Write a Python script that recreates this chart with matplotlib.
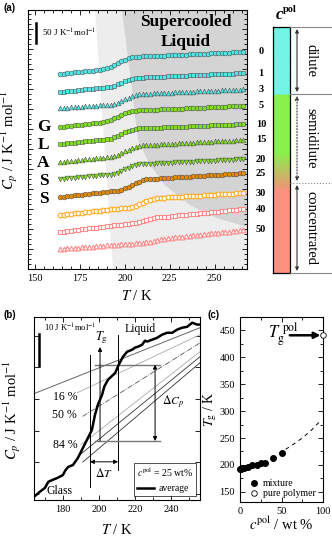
import numpy as np
import matplotlib
matplotlib.use('Agg')
import matplotlib.pyplot as plt
import matplotlib.transforms as mtrans
from matplotlib.patches import Polygon
from matplotlib.colors import LinearSegmentedColormap
from matplotlib.ticker import MultipleLocator

plt.rcParams['font.family'] = ['Liberation Serif', 'DejaVu Serif']
plt.rcParams['mathtext.fontset'] = 'stix'
plt.rcParams['xtick.direction'] = 'in'
plt.rcParams['ytick.direction'] = 'in'
plt.rcParams['axes.linewidth'] = 0.8

# ---------------- panel (a): Cp(T) - Cp(164 K), measured every 2 K
T_a = np.arange(164, 268, 2)
conc = ['0', '1', '3', '5', '10', '15', '20', '25', '30', '40', '50']
cp0 = [0, 1.0, 1.9, 2.9, 3.8, 4.8, 5.7, 6.7, 7.6, 8.6, 9.5, 10.5, 11.4, 13.8, 17.5, 21.9, 26.7, 31.5, 35.9, 39.6, 42.0, 43.0,
       43.4, 43.8, 44.2, 44.6, 45.0, 45.4, 45.8, 46.2, 46.6, 47.0, 47.4, 47.8, 48.2, 48.6, 49.0, 49.4, 49.8, 50.2, 50.6, 51.0,
       51.4, 51.8, 52.2, 52.6, 53.0, 53.4, 53.8, 54.2, 54.6, 55.0]
cp1 = [0, 0.9, 1.8, 2.7, 3.6, 4.5, 5.4, 6.3, 7.2, 8.1, 9.0, 9.9, 10.8, 11.5, 13.4, 16.2, 19.6, 23.3, 27.0, 30.4, 33.2, 35.1,
       35.8, 36.2, 36.6, 37.0, 37.4, 37.8, 38.2, 38.6, 39.0, 39.4, 39.8, 40.2, 40.6, 41.0, 41.4, 41.8, 42.2, 42.6, 43.0, 43.4,
       43.8, 44.2, 44.6, 45.0, 45.4, 45.8, 46.2, 46.6, 47.0, 47.4]
cp3 = [0, 0.6, 1.2, 1.8, 2.4, 3.0, 3.6, 4.2, 4.8, 5.4, 6.0, 6.6, 7.2, 7.8, 8.6, 10.7, 13.7, 17.5, 21.6, 25.6, 29.4, 32.4,
       34.5, 35.3, 35.7, 36.1, 36.5, 36.9, 37.3, 37.7, 38.1, 38.5, 38.9, 39.3, 39.7, 40.1, 40.5, 40.9, 41.3, 41.7, 42.1, 42.5,
       42.9, 43.3, 43.7, 44.1, 44.5, 44.9, 45.3, 45.7, 46.1, 46.5]
cp5 = [0, 1, 2, 3, 4, 5, 6, 7, 8, 9, 10, 11, 11.8, 14.1, 17.5, 21.6, 26.0, 30.4, 34.5, 37.9, 40.2, 41.0,
       41.4, 41.8, 42.2, 42.6, 43.0, 43.4, 43.8, 44.2, 44.6, 45.0, 45.4, 45.8, 46.2, 46.6, 47.0, 47.4, 47.8, 48.2, 48.6, 49.0,
       49.4, 49.8, 50.2, 50.6, 51.0, 51.4, 51.8, 52.2, 52.6, 53.0]
cp10 = [0, 0.9, 1.8, 2.7, 3.6, 4.5, 5.4, 6.3, 7.2, 8.1, 9.0, 9.9, 10.8, 11.6, 13.7, 16.9, 20.7, 24.8, 28.9, 32.8, 35.9, 38.0,
        38.8, 39.2, 39.6, 39.9, 40.3, 40.7, 41.1, 41.5, 41.8, 42.2, 42.6, 43.0, 43.4, 43.7, 44.1, 44.5, 44.9, 45.3, 45.6, 46.0,
        46.4, 46.8, 47.2, 47.5, 47.9, 48.3, 48.7, 49.1, 49.4, 49.8]
cp15 = [0, 0.9, 1.8, 2.7, 3.6, 4.5, 5.4, 6.3, 7.2, 8.1, 9.0, 9.9, 10.8, 11.7, 12.5, 14.8, 18.2, 22.3, 26.7, 31.1, 35.2, 38.6,
        40.9, 41.7, 42.2, 42.7, 43.1, 43.6, 44.1, 44.6, 45.1, 45.5, 46.0, 46.5, 47.0, 47.5, 47.9, 48.4, 48.9, 49.4, 49.9, 50.3,
        50.8, 51.3, 51.8, 52.3, 52.7, 53.2, 53.7, 54.2, 54.7, 55.1]
cp20 = [0, 0.8, 1.6, 2.4, 3.2, 4.0, 4.8, 5.6, 6.4, 7.2, 8.0, 8.8, 9.6, 10.4, 11.2, 13.2, 16.2, 19.9, 23.9, 27.9, 31.6, 34.6,
        36.6, 37.4, 37.8, 38.3, 38.7, 39.2, 39.6, 40.0, 40.5, 40.9, 41.4, 41.8, 42.2, 42.7, 43.1, 43.6, 44.0, 44.4, 44.9, 45.3,
        45.8, 46.2, 46.6, 47.1, 47.5, 48.0, 48.4, 48.8, 49.3, 49.7]
cp25 = [0, 1, 2, 3, 4, 5, 6, 7, 8, 9, 10, 11, 12, 13, 14, 15, 15.8, 18.1, 21.5, 25.6, 30.0, 34.4, 38.5, 41.9, 44.2, 45.0,
        45.6, 46.1, 46.7, 47.2, 47.8, 48.4, 48.9, 49.5, 50.0, 50.6, 51.2, 51.7, 52.3, 52.8, 53.4, 54.0, 54.5, 55.1, 55.6, 56.2,
        56.8, 57.3, 57.9, 58.4, 59.0, 59.6]
cp30 = [0, 1, 2, 3, 4, 5, 6, 7, 8, 9, 10, 11, 12, 13, 14, 15, 16, 17, 18, 18.7, 20.6, 23.4, 26.8, 30.5, 34.2, 37.6, 40.4,
        42.3, 43.0, 43.5, 44.0, 44.6, 45.1, 45.6, 46.1, 46.6, 47.2, 47.7, 48.2, 48.7, 49.2, 49.8, 50.3, 50.8, 51.3, 51.8, 52.4,
        52.9, 53.4, 53.9, 54.4, 55.0]
cp40 = [0, 1.1, 2.2, 3.3, 4.4, 5.5, 6.6, 7.7, 8.8, 9.9, 11.0, 12.1, 13.2, 14.3, 15.4, 16.5, 17.6, 18.7, 19.8, 20.3, 21.6,
        23.5, 25.8, 28.3, 30.8, 33.1, 35.0, 36.3, 36.8, 37.7, 38.6, 39.5, 40.4, 41.3, 42.2, 43.1, 44.0, 44.9, 45.8, 46.7, 47.6,
        48.5, 49.4, 50.3, 51.2, 52.1, 53.0, 53.9, 54.8, 55.7, 56.6, 57.5]
cp50 = [0, 0.7, 1.4, 2.0, 2.7, 3.4, 4.1, 4.8, 5.4, 6.1, 6.8, 7.5, 8.2, 8.8, 9.5, 10.2, 10.9, 11.6, 12.2, 12.9, 13.6, 14.3,
        15.0, 15.4, 16.5, 18.0, 19.9, 22.0, 24.1, 26.0, 27.5, 28.6, 29.0, 30.0, 31.0, 31.9, 32.9, 33.9, 34.9, 35.9, 36.8, 37.8,
        38.8, 39.8, 40.8, 41.7, 42.7, 43.7, 44.7, 45.7, 46.6, 47.6]
curves = [cp0, cp1, cp3, cp5, cp10, cp15, cp20, cp25, cp30, cp40, cp50]
# vertical shift of each curve (J K-1 mol-1)
shift = [487.5, 442.5, 402.5, 355, 312.5, 267.5, 225, 180, 135, 92.5, 50]

# ---------------- panel (b): averaged curve, 25 wt%
T_b = [164, 167, 170, 172, 174, 177, 180, 181.5, 183, 185.6, 188.3, 191.1, 193.9, 196.1, 197.8, 199.4, 201.7, 203, 205, 207,
       209, 211, 213.3, 215.6, 218.3, 220, 221.7, 223.9, 225.5, 226.7, 229.4, 232.2, 235, 237.8, 240.6, 243.3, 246.1, 248.9,
       251.7, 254.4, 256]
cp_b = [-1.0, 0.5, 1.8, 3.8, 4.3, 5.0, 5.9, 7.5, 8.5, 9.1, 11.3, 14.5, 17.7, 20.2, 25.0, 28.2, 31.3, 34.0, 36.1, 37.2,
        38.3, 40.9, 43.4, 45.0, 45.6, 46.3, 46.6, 47.2, 48.5, 48.2, 48.8, 49.4, 50.4, 51.0, 51.0, 52.0, 52.6, 52.9, 54.2,
        53.6, 53.6]

# ---------------- panel (c): Tg vs polymer concentration
c_mix = [0, 1, 3, 5, 10, 15, 20, 25, 30, 40, 50]
Tg_mix = [193, 193, 194, 195, 197, 199, 200, 203, 204, 212, 222]
c_pure = [100]
Tg_pure = [441]
c_fit = [55, 65, 75, 85, 97]
Tg_fit = [229, 239, 250, 263, 282]

W, H = 332, 538
fig = plt.figure(figsize=(W / 100, H / 100), dpi=100)


def rect(l, t, r, b):
    return [l / W, 1 - b / H, (r - l) / W, (b - t) / H]


def ticks(ax):
    ax.tick_params(which='both', top=True, right=True, labelsize=7.5, width=0.6)
    ax.tick_params(which='major', length=3.5)
    ax.tick_params(which='minor', length=2)


# ======== (a)
axA = fig.add_axes(rect(28, 10, 247, 269))
axA.set_xlim(146, 268)
axA.set_ylim(0, 647.5)
axA.add_patch(Polygon([(183.3, 647.5), (268, 647.5), (268, 0), (193.3, 0)], closed=True,
                      fc='#EDEDED', ec='none', zorder=0))
axA.add_patch(Polygon([(198.3, 647.5), (203.3, 472.5), (207.2, 322.5), (213.9, 260), (222.2, 210), (236.1, 160),
                       (251.1, 127.5), (268, 105), (268, 647.5)], closed=True, fc='#D4D4D4', ec='none', zorder=0))

cyan, green, orange, salmon = '#4FE6E6', '#80E020', '#E58A00', '#FF8A8A'
styles = [('o', cyan, True), ('s', cyan, True), ('^', cyan, True),
          ('o', green, True), ('s', green, True), ('^', green, True), ('v', green, True),
          ('o', orange, True), ('o', '#FFAA20', False), ('s', salmon, False), ('^', salmon, False)]
trA = mtrans.blended_transform_factory(axA.transAxes, axA.transData)
for cp, s, lab, (m, col, filled) in zip(curves, shift, conc, styles):
    y = np.array(cp) + s
    if filled:
        axA.plot(T_a, y, ls='none', marker=m, ms=3.4, mfc=col, mec='#505050', mew=0.4, zorder=3)
    else:
        axA.plot(T_a, y, ls='none', marker=m, ms=3.4, mfc='white', mec=col, mew=0.8, zorder=3)
    axA.text(1.064, y[-1], lab, transform=trA, ha='center', va='center', fontsize=7.5, fontweight='bold',
             clip_on=False)

axA.plot([150.6, 150.6], [565, 615], color='k', lw=1.8)
axA.text(153.9, 590, r'50 J K$^{-1}$mol$^{-1}$', fontsize=6.5, va='center')
axA.text(233.9, 617.5, 'Supercooled', fontsize=12.5, fontweight='bold', ha='center', va='center')
axA.text(233.9, 567.5, 'Liquid', fontsize=12.5, fontweight='bold', ha='center', va='center')
for ch, yy in zip('GLASS', [355, 310, 265, 220, 174]):
    axA.text(154.6, yy, ch, fontsize=12.5, fontweight='bold', ha='center', va='center')

axA.xaxis.set_major_locator(MultipleLocator(25))
axA.xaxis.set_minor_locator(MultipleLocator(5))
axA.yaxis.set_major_locator(MultipleLocator(50))
axA.yaxis.set_minor_locator(MultipleLocator(12.5))
axA.set_yticklabels([])
ticks(axA)

# colour bar of concentration regimes
axCb = fig.add_axes(rect(273, 27, 290, 273))
cmap = LinearSegmentedColormap.from_list('regime', [(0, '#72F4E6'), (0.272, '#72F4E6'), (0.273, '#88F24A'),
                                                    (0.51, '#88F24A'), (0.64, '#E0A070'), (0.67, '#FF9080'),
                                                    (1, '#FF9080')])
axCb.imshow(np.linspace(0, 1, 400)[:, None], cmap=cmap, aspect='auto', extent=(0, 1, 1, 0))
axCb.set_xticks([])
axCb.set_yticks([])
for sp in axCb.spines.values():
    sp.set_linewidth(0.9)

# ======== (b)
axB = fig.add_axes(rect(34, 317, 200, 500))
axB.set_xlim(164, 256)
axB.set_ylim(-2, 56)
axB.plot([164, 256], [31.7, 52.6], color='#666666', lw=0.7)
axB.plot([188, 256], [32.0, 50.4], color='#AAAAAA', lw=0.6)
axB.plot([191, 256], [24.5, 47.8], color='#555555', lw=0.6, ls='-.')
axB.plot([190, 256], [15.5, 45.0], color='#AAAAAA', lw=0.6)
axB.plot([189.4, 256], [12.3, 43.4], color='#333333', lw=0.6)
axB.plot([191, 256], [10.0, 41.5], color='#333333', lw=0.6)
axB.plot([195, 195], [2.1, 44.0], color='k', lw=0.7)
axB.plot([210.6, 210.6], [7.5, 50.4], color='k', lw=0.7)
axB.plot([197.8, 233.9], [40.9, 40.9], color='#777777', lw=1.0)
axB.plot([197.8, 233.9], [16.7, 16.7], color='#777777', lw=1.0)
avg, = axB.plot(T_b, cp_b, color='k', lw=1.8, zorder=4)
axB.annotate('', xy=(200.6, 46.5), xytext=(200.6, 16.7),
             arrowprops=dict(arrowstyle='-|>', lw=0.7, color='k', mutation_scale=6, shrinkA=0, shrinkB=0))
axB.annotate('', xy=(231.1, 40.9), xytext=(231.1, 16.7),
             arrowprops=dict(arrowstyle='<|-|>', lw=0.7, color='k', mutation_scale=6, shrinkA=0, shrinkB=0))
axB.annotate('', xy=(195, 10.1), xytext=(210.6, 10.1),
             arrowprops=dict(arrowstyle='<|-|>', lw=0.7, color='k', mutation_scale=6, shrinkA=0, shrinkB=0))
axB.text(201.5, 49.6, r'$T_{\rm g}$', fontsize=9, ha='center', va='center')
axB.text(241, 28.8, r'$\Delta C_p$', fontsize=8.5, ha='center', va='center')
axB.text(203, 6.5, r'$\Delta T$', fontsize=8.5, ha='center', va='center')
axB.text(222.8, 52.3, 'Liquid', fontsize=8.5, ha='center', va='center')
axB.text(178.3, 0.8, 'Glass', fontsize=8.5, ha='center', va='center')
axB.text(181.1, 30.7, '16 %', fontsize=8.5, ha='center', va='center')
axB.text(181.1, 25.0, '50 %', fontsize=8.5, ha='center', va='center')
axB.text(181.1, 15.5, '84 %', fontsize=8.5, ha='center', va='center')
axB.plot([166.9, 166.9], [40.5, 50.7], color='k', lw=1.8)
axB.text(169.3, 52.5, r'10 J K$^{-1}$mol$^{-1}$', fontsize=6.2, va='center')
leg = axB.legend([avg], ['average'], title=r'$c^{\rm pol}$ = 25 wt%', loc='lower right', fontsize=7,
                 title_fontsize=7, fancybox=False, edgecolor='k', borderpad=0.3, handlelength=1.8,
                 handletextpad=0.4, borderaxespad=0.4, alignment='left')
leg.get_frame().set_linewidth(0.6)
axB.xaxis.set_major_locator(MultipleLocator(20))
axB.xaxis.set_minor_locator(MultipleLocator(10))
axB.yaxis.set_major_locator(MultipleLocator(10))
axB.set_yticklabels([])
ticks(axB)

# ======== (c)
axC = fig.add_axes(rect(240, 317, 323, 502))
axC.set_xlim(0, 100)
axC.set_ylim(131, 475)
axC.plot(c_fit, Tg_fit, color='k', lw=0.7, ls=(0, (4, 4)))
mix, = axC.plot(c_mix, Tg_mix, 'o', color='k', ms=4, clip_on=False, zorder=4)
pure, = axC.plot(c_pure, Tg_pure, 'o', mfc='white', mec='k', mew=0.6, ms=4, clip_on=False, zorder=4)
axC.annotate('', xy=(97, 441), xytext=(60, 441),
             arrowprops=dict(arrowstyle='-|>', lw=1.8, color='k', mutation_scale=9, shrinkA=0, shrinkB=0))
axC.text(52, 443, r'$T_{\rm g}^{\rm \ pol}$', fontsize=12, ha='center', va='center')
axC.legend([mix, pure], ['mixture', 'pure polymer'], loc='lower left', bbox_to_anchor=(0.07, 0.0),
           frameon=False, fontsize=7, handlelength=0.9, handletextpad=0.5, labelspacing=0.1,
           borderaxespad=0.2, borderpad=0.2)
axC.xaxis.set_major_locator(MultipleLocator(50))
axC.xaxis.set_minor_locator(MultipleLocator(25))
axC.yaxis.set_major_locator(MultipleLocator(50))
axC.yaxis.set_minor_locator(MultipleLocator(25))
ticks(axC)

# ======== labels and annotations in figure pixel space
ov = fig.add_axes([0, 0, 1, 1], zorder=10)
ov.set_xlim(0, W)
ov.set_ylim(H, 0)
ov.axis('off')
ov.patch.set_alpha(0)
for t, x, y in [('(a)', 3, 8), ('(b)', 3, 315), ('(c)', 208, 315)]:
    ov.text(x, y, t, fontsize=7, fontweight='bold', family='Liberation Sans', va='center')
ov.text(9.5, 140, r'$C_p$ / J K$^{-1}$ mol$^{-1}$', fontsize=10.5, rotation=90, ha='center', va='center')
ov.text(137, 296, r'$T$ / K', fontsize=10.5, ha='center', va='center')
ov.text(12.5, 410, r'$C_p$ / J K$^{-1}$ mol$^{-1}$', fontsize=10.5, rotation=90, ha='center', va='center')
ov.text(117, 530, r'$T$ / K', fontsize=10.5, ha='center', va='center')
ov.text(210.5, 409, r'$T_{\rm g}$ / K', fontsize=10, rotation=90, ha='center', va='center')
ov.text(281, 524, r'$c^{\rm pol}$ / wt %', fontsize=10.5, ha='center', va='center')
ov.text(276, 15, 'c', fontsize=12, fontweight='bold', style='italic', ha='left', va='center')
ov.text(283, 9, 'pol', fontsize=7.5, fontweight='bold', ha='left', va='center')

for y in [27, 94, 273]:
    ov.plot([290, 332], [y, y], color='#888888', lw=0.8)
ov.plot([290, 332], [183, 183], color='#888888', lw=0.8, ls=':')
arr = dict(arrowstyle='<|-|>', lw=0.8, color='#333333', mutation_scale=5, shrinkA=0, shrinkB=0)
ov.annotate('', xy=(297, 29), xytext=(297, 92), arrowprops=arr)
ov.annotate('', xy=(297, 96), xytext=(297, 181), arrowprops=dict(arr, ls=':'))
ov.annotate('', xy=(297, 185), xytext=(297, 271), arrowprops=arr)
ov.text(311, 60, 'dilute', fontsize=10.5, rotation=-90, ha='center', va='center')
ov.text(311, 138, 'semidilute', fontsize=10.5, rotation=-90, ha='center', va='center')
ov.text(311, 228, 'concentrated', fontsize=10.5, rotation=-90, ha='center', va='center')

fig.savefig('out.png', dpi=100)
